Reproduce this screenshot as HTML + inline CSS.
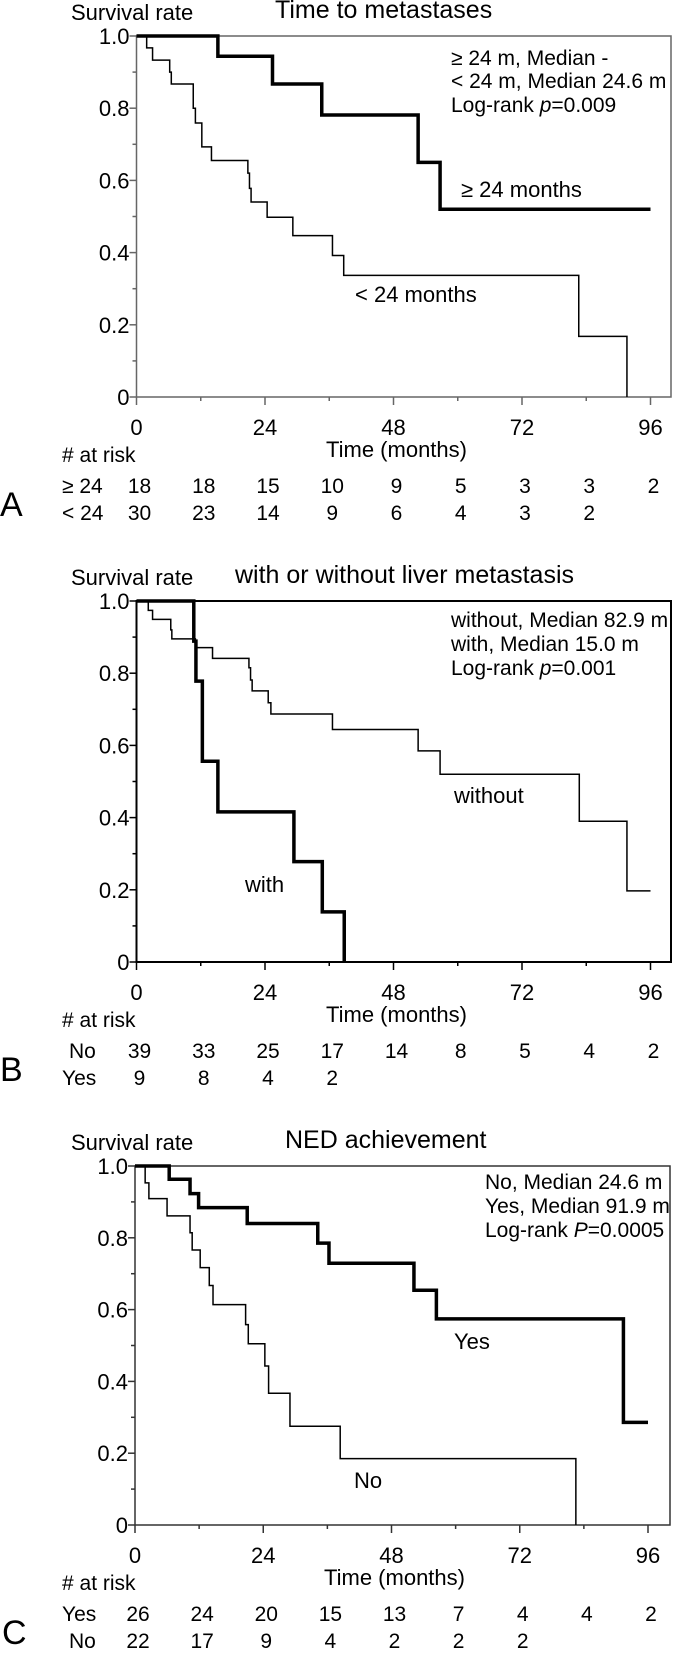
<!DOCTYPE html>
<html><head><meta charset="utf-8"><style>
html,body{margin:0;padding:0;background:#fff}
svg{display:block;font-family:"Liberation Sans",Arial,sans-serif}
</style></head><body>
<svg id="fig" width="673" height="1653" viewBox="0 0 673 1653" xmlns="http://www.w3.org/2000/svg"></svg>
<script>
// Panel A data
const aThickT=[0,15.2,25.4,34.6,52.6,56.7,96];
const aThickS=[1,0.944,0.867,0.781,0.650,0.520,0.520];
const aThinT=[0,1.9,3,6.2,6.5,10.6,11,12.2,14,20.8,21.1,21.4,24.4,29.2,36.6,38.7,82.6,91.6];
const aThinS=[1,0.967,0.933,0.900,0.867,0.800,0.759,0.693,0.655,0.620,0.578,0.540,0.498,0.447,0.392,0.337,0.168,0];
const aRisk1=["18","18","15","10","9","5","3","3","2"];
const aRisk2=["30","23","14","9","6","4","3","2"];
// Panel B data
const bThickT=[0,10.7,11.1,12.3,15.2,29.4,34.7,38.8];
const bThickS=[1,0.889,0.778,0.556,0.416,0.278,0.139,0];
const bThinT=[0,2.2,3,6.4,6.6,11,14.2,21,21.3,21.6,24.6,25.1,36.6,52.6,56.7,82.7,91.6,96];
const bThinS=[1,0.974,0.949,0.92,0.895,0.871,0.841,0.815,0.781,0.751,0.718,0.687,0.644,0.585,0.520,0.390,0.197,0.197];
const bRisk1=["39","33","25","17","14","8","5","4","2"];
const bRisk2=["9","8","4","2"];
// Panel C data
const cThickT=[0,6.4,10.3,11.9,21,34.2,36.3,52.2,56.4,91.4,96];
const cThickS=[1,0.963,0.923,0.884,0.840,0.785,0.729,0.654,0.574,0.286,0.286];
const cThinT=[0,1.9,2.6,6,10.3,10.7,12.2,13.9,14.6,20.7,21.2,24.3,25,29,38.4,82.5];
const cThinS=[1,0.953,0.909,0.861,0.814,0.766,0.717,0.667,0.614,0.558,0.505,0.443,0.367,0.275,0.185,0];
const cRisk1=["26","24","20","15","13","7","4","4","2"];
const cRisk2=["22","17","9","4","2","2","2"];
const yTicks=[0,0.2,0.4,0.6,0.8,1.0];
const yTickLabels=["0","0.2","0.4","0.6","0.8","1.0"];
const xTicks=[0,24,48,72,96];

const NS="http://www.w3.org/2000/svg";
const svg=document.getElementById('fig');
function mk(tag,attrs,parent){const e=document.createElementNS(NS,tag);for(const k in attrs)e.setAttribute(k,attrs[k]);(parent||svg).appendChild(e);return e;}
function txt(s,x,y,size,parent,anchor,name){const t=mk('text',{x:x,y:y,'font-size':size,fill:'#000','text-anchor':anchor||'start'},parent);t.textContent=s;


return t;}

function panel(P){
  const g=mk('g',{});
  
  
  const X=t=>P.x0+t*(P.x96-P.x0)/96;
  const Y=s=>P.yBot-s*(P.yBot-P.yTop);
  // frame
  const fr=mk('rect',{x:P.x0,y:P.yTop,width:P.right-P.x0,height:P.yBot-P.yTop,fill:'none',stroke:P.frame,'stroke-width':P.fw},g);
  
  
  // y ticks
  for(let i=0;i<=10;i++){const v=i/10;const len=(i%2===0)?7:4;
    mk('line',{x1:P.x0-len,x2:P.x0,y1:Y(v),y2:Y(v),stroke:P.frame,'stroke-width':1.5},g);}
  yTicks.forEach((v,i)=>{txt(yTickLabels[i],P.x0-7,Y(v)+8,22,g,'end','y-tick-label');});
  // x ticks
  for(let m=0;m<=96;m+=12){const len=(m%24===0)?8:4;
    mk('line',{x1:X(m),x2:X(m),y1:P.yBot,y2:P.yBot+len,stroke:P.frame,'stroke-width':1.5},g);}
  xTicks.forEach(m=>{txt(String(m),X(m),P.yBot+38,22,g,'middle','x-tick-label');});
  txt('Time (months)',X(48)+3,P.yBot+60,22,g,'middle','x-axis-title');
  txt('Survival rate',71,P.yTop-16,22,g,'start','y-axis-title');
  txt(P.title,P.titleX,P.yTop-18,25,g,'start','chart-title');
  P.info.forEach((s,i)=>{const t=txt('',P.infoX,P.yTop+P.infoY[i],21,g,'start','stats-line');
    s.forEach(part=>{const sp=mk('tspan',{},t);sp.textContent=part[0];if(part[1])sp.setAttribute('font-style','italic');});});
  // curves
  function curve(T,S,w,name){let d='M'+X(T[0])+','+Y(S[0]);
    for(let i=1;i<T.length;i++){d+=' H'+X(T[i])+' V'+Y(S[i]);}
    const p=mk('path',{d:d,fill:'none',stroke:'#000','stroke-width':w,'stroke-linejoin':'miter'},g);
    
    }
  curve(P.thinT,P.thinS,1.5,P.thinName);
  curve(P.thickT,P.thickS,3.5,P.thickName);
  P.labels.forEach(l=>txt(l[0],l[1],l[2],22,g,'start','curve-label'));
  // at risk
  txt('# at risk',62,P.yBot+65,21,g,'start','at-risk-header');
  txt(P.row1,P.row1X,P.yBot+96,21,g,'start','risk-row-label');
  txt(P.row2,P.row2X,P.yBot+123,21,g,'start','risk-row-label');
  P.r1.forEach((v,i)=>txt(v,X(i*12)+3,P.yBot+96,21,g,'middle','risk-count'));
  P.r2.forEach((v,i)=>txt(v,X(i*12)+3,P.yBot+123,21,g,'middle','risk-count'));
  txt(P.letter,P.letterX,P.yBot+119,34,g,'start','panel-letter');
}

panel({name:'panel-a',x0:136.5,x96:650.5,right:671,yTop:36,yBot:397,frame:'#666',fw:1.5,
 title:'Time to metastases',titleX:275,
 info:[[['≥ 24 m, Median  -']],[['< 24 m, Median 24.6 m']],[['Log-rank '],['p',1],['=0.009']]],infoX:451,infoY:[29,52,76],
 thickT:aThickT,thickS:aThickS,thinT:aThinT,thinS:aThinS,thickName:'curve-ge24',thinName:'curve-lt24',
 labels:[['≥ 24 months',461,197],['< 24 months',355,302]],
 row1:'≥ 24',row1X:62,row2:'< 24',row2X:62,r1:aRisk1,r2:aRisk2,letter:'A',letterX:0});
panel({name:'panel-b',x0:136.5,x96:650.5,right:671,yTop:601,yBot:962,frame:'#000',fw:2,
 title:'with or without liver metastasis',titleX:235,
 info:[[['without, Median 82.9 m']],[['with, Median 15.0 m']],[['Log-rank '],['p',1],['=0.001']]],infoX:451,infoY:[26,50,74],
 thickT:bThickT,thickS:bThickS,thinT:bThinT,thinS:bThinS,thickName:'curve-with',thinName:'curve-without',
 labels:[['without',454,803],['with',245,892]],
 row1:'No',row1X:69,row2:'Yes',row2X:62,r1:bRisk1,r2:bRisk2,letter:'B',letterX:0});
panel({name:'panel-c',x0:135,x96:648,right:670,yTop:1166,yBot:1525,frame:'#333',fw:1.5,
 title:'NED achievement',titleX:285,
 info:[[['No, Median 24.6 m']],[['Yes, Median 91.9 m']],[['Log-rank '],['P',1],['=0.0005']]],infoX:485,infoY:[23,47,71],
 thickT:cThickT,thickS:cThickS,thinT:cThinT,thinS:cThinS,thickName:'curve-yes',thinName:'curve-no',
 labels:[['Yes',454,1349],['No',354,1488]],
 row1:'Yes',row1X:62,row2:'No',row2X:69,r1:cRisk1,r2:cRisk2,letter:'C',letterX:2});
</script>
</body></html>
